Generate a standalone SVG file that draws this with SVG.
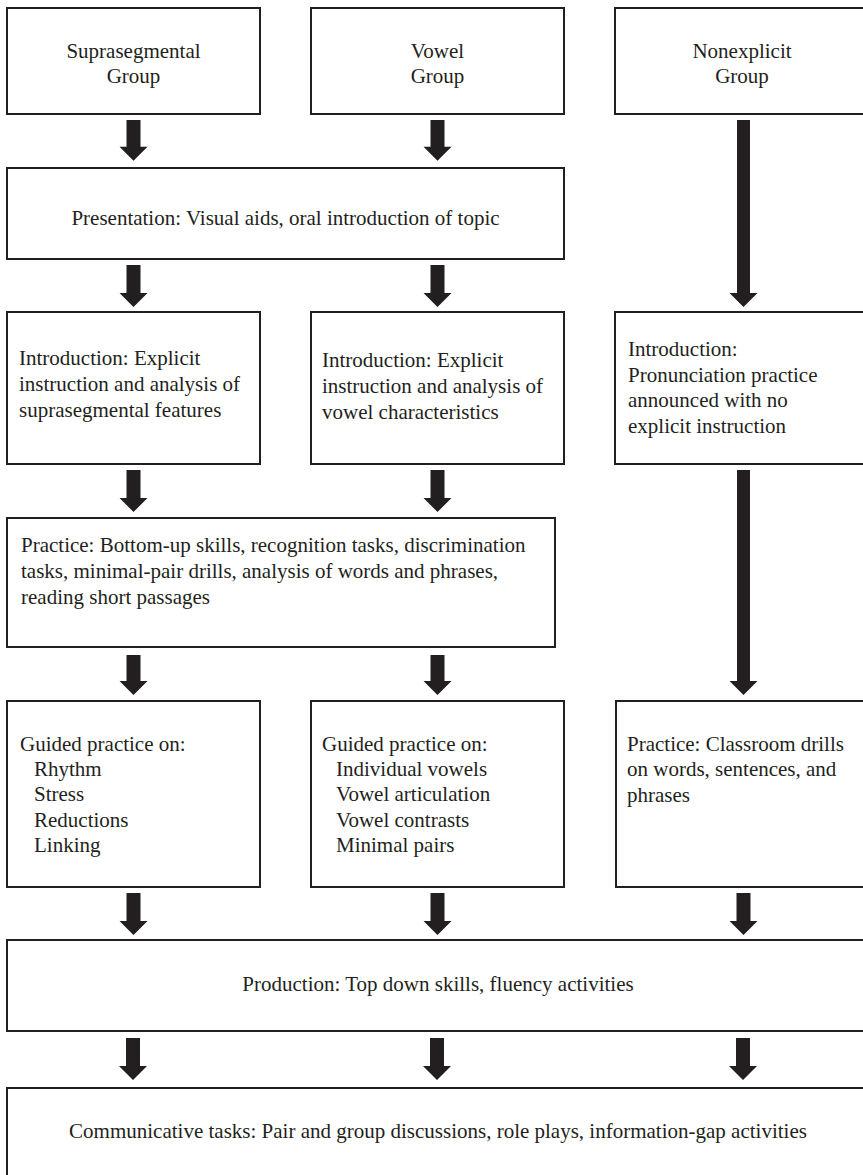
<svg xmlns="http://www.w3.org/2000/svg" width="863" height="1175" viewBox="0 0 863 1175">
<style>
.box{fill:#fff;stroke:#231f20;stroke-width:2}
.arrow{fill:#231f20}
text{font-family:"Liberation Serif","Times New Roman",serif;font-size:21px;fill:#231f20}
.c{text-anchor:middle}
</style>
<rect width="863" height="1175" fill="#fff"/>
<g id="connectors">
<path class="arrow" d="M126.5,120H140.5V146.7H147.5L133.5,160.7L119.5,146.7H126.5Z"/>
<path class="arrow" d="M430.5,120H444.5V146.7H451.5L437.5,160.7L423.5,146.7H430.5Z"/>
<path class="arrow" d="M737,120H750V293H757.5L743.5,307L729.5,293H737Z"/>
<path class="arrow" d="M126.5,265H140.5V293H147.5L133.5,307L119.5,293H126.5Z"/>
<path class="arrow" d="M430.5,265H444.5V293H451.5L437.5,307L423.5,293H430.5Z"/>
<path class="arrow" d="M126.5,470H140.5V498H147.5L133.5,512L119.5,498H126.5Z"/>
<path class="arrow" d="M430.5,470H444.5V498H451.5L437.5,512L423.5,498H430.5Z"/>
<path class="arrow" d="M737,470H750V681H757.5L743.5,695L729.5,681H737Z"/>
<path class="arrow" d="M126.5,655H140.5V681H147.5L133.5,695L119.5,681H126.5Z"/>
<path class="arrow" d="M430.5,655H444.5V681H451.5L437.5,695L423.5,681H430.5Z"/>
<path class="arrow" d="M126.5,893H140.5V921H147.5L133.5,935L119.5,921H126.5Z"/>
<path class="arrow" d="M430.5,893H444.5V921H451.5L437.5,935L423.5,921H430.5Z"/>
<path class="arrow" d="M736.5,893H750.5V921H757.5L743.5,935L729.5,921H736.5Z"/>
<path class="arrow" d="M126,1038H140V1066H147L133,1080L119,1066H126Z"/>
<path class="arrow" d="M430,1038H444V1066H451L437,1080L423,1066H430Z"/>
<path class="arrow" d="M736,1038H750V1066H757L743,1080L729,1066H736Z"/>
</g>
<g id="supraseg-group">
<rect class="box" x="7" y="8" width="253" height="106"/>
<text class="c" x="133.5" y="58">Suprasegmental</text>
<text class="c" x="133.5" y="83">Group</text>
</g>
<g id="vowel-group">
<rect class="box" x="311" y="8" width="253" height="106"/>
<text class="c" x="437.5" y="58">Vowel</text>
<text class="c" x="437.5" y="83">Group</text>
</g>
<g id="nonexplicit-group">
<rect class="box" x="615" y="8" width="254" height="106"/>
<text class="c" x="742" y="58">Nonexplicit</text>
<text class="c" x="742" y="83">Group</text>
</g>
<g id="presentation">
<rect class="box" x="7" y="168" width="557" height="91"/>
<text class="c" x="285.5" y="225">Presentation: Visual aids, oral introduction of topic</text>
</g>
<g id="intro-supraseg">
<rect class="box" x="7" y="312" width="253" height="152"/>
<text x="19" y="365">Introduction: Explicit</text>
<text x="19" y="391">instruction and analysis of</text>
<text x="19" y="417">suprasegmental features</text>
</g>
<g id="intro-vowel">
<rect class="box" x="311" y="312" width="253" height="152"/>
<text x="322" y="367">Introduction: Explicit</text>
<text x="322" y="393">instruction and analysis of</text>
<text x="322" y="419">vowel characteristics</text>
</g>
<g id="intro-nonexplicit">
<rect class="box" x="615" y="312" width="254" height="152"/>
<text x="628" y="356">Introduction:</text>
<text x="628" y="382">Pronunciation practice</text>
<text x="628" y="407">announced with no</text>
<text x="628" y="433">explicit instruction</text>
</g>
<g id="practice">
<rect class="box" x="7" y="518" width="548" height="129"/>
<text x="21" y="552">Practice: Bottom-up skills, recognition tasks, discrimination</text>
<text x="21" y="578">tasks, minimal-pair drills, analysis of words and phrases,</text>
<text x="21" y="604">reading short passages</text>
</g>
<g id="guided-supraseg">
<rect class="box" x="7" y="701" width="253" height="186"/>
<text x="20" y="751">Guided practice on:</text>
<text x="34" y="776">Rhythm</text>
<text x="34" y="801">Stress</text>
<text x="34" y="827">Reductions</text>
<text x="34" y="852">Linking</text>
</g>
<g id="guided-vowel">
<rect class="box" x="311" y="701" width="253" height="186"/>
<text x="322" y="751">Guided practice on:</text>
<text x="336" y="776">Individual vowels</text>
<text x="336" y="801">Vowel articulation</text>
<text x="336" y="827">Vowel contrasts</text>
<text x="336" y="852">Minimal pairs</text>
</g>
<g id="practice-nonexplicit">
<rect class="box" x="616" y="701" width="253" height="186"/>
<text x="627" y="751">Practice: Classroom drills</text>
<text x="627" y="776">on words, sentences, and</text>
<text x="627" y="802">phrases</text>
</g>
<g id="production">
<rect class="box" x="7" y="940" width="862" height="91"/>
<text class="c" x="438" y="991">Production: Top down skills, fluency activities</text>
</g>
<g id="communicative">
<rect class="box" x="7" y="1088" width="862" height="100"/>
<text class="c" x="438" y="1138">Communicative tasks: Pair and group discussions, role plays, information-gap activities</text>
</g>
</svg>
